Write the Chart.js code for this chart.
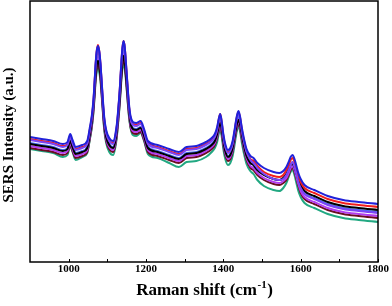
<!DOCTYPE html>
<html>
<head>
<meta charset="utf-8">
<script src="https://cdn.jsdelivr.net/npm/chart.js@4.4.1/dist/chart.umd.min.js"></script>
<style>
  html, body { margin: 0; padding: 0; background: #fff; }
</style>
</head>
<body>
<canvas id="sersChart" width="392" height="306"></canvas>
<script>
// Raman shift positions (cm-1)
const ramanShift = [900, 930, 960, 985, 997, 1004, 1010, 1018, 1035, 1048,
  1055, 1060, 1064, 1067, 1070, 1073, 1076, 1079, 1082, 1085,
  1088, 1092, 1097, 1105, 1115, 1124, 1128, 1132, 1136, 1139,
  1142, 1145, 1148, 1152, 1156, 1160, 1166, 1175, 1186, 1195,
  1205, 1230, 1260, 1285, 1305, 1330, 1355, 1370, 1378, 1384,
  1388, 1392, 1396, 1400, 1405, 1412, 1418, 1424, 1429, 1434,
  1439, 1443, 1448, 1453, 1460, 1470, 1478, 1488, 1505, 1530,
  1545, 1555, 1563, 1569, 1574, 1579, 1584, 1589, 1594, 1600,
  1610, 1635, 1670, 1710, 1750, 1800];

// SERS intensity (a.u.) for each spectrum
const spectrumBlue = [125, 123, 121, 118, 120, 128, 122, 115, 117, 121,
  135, 147, 162, 180, 200, 212, 216, 211, 200, 183,
  165, 145, 132, 124, 121, 136, 152, 172, 198, 214,
  221, 215, 200, 178, 158, 146, 140, 139, 141, 133,
  121, 117, 113, 110, 115, 116, 120, 124, 128, 135,
  143, 148, 140, 128, 118, 112, 114, 121, 132, 144,
  151, 146, 134, 124, 113, 106, 104, 99, 94, 90,
  89, 91, 95, 100, 105, 107, 103, 96, 89, 83,
  77, 72, 66, 62, 60, 58];
const spectrumRed = [123, 121, 119, 116, 118, 126, 120, 113, 115, 119,
  133, 145, 160, 179, 199, 212, 217, 211, 199, 182,
  163, 143, 130, 122, 119, 134, 150, 171, 197, 214,
  221, 215, 199, 177, 156, 144, 138, 137, 139, 131,
  119, 115, 111, 108, 113, 114, 118, 122, 126, 133,
  142, 148, 139, 126, 116, 110, 112, 119, 130, 143,
  150, 145, 132, 122, 111, 103, 101, 96, 90, 86,
  85, 87, 92, 97, 102, 104, 100, 93, 86, 80,
  74, 69, 63, 59, 57, 55];
const spectrumViolet = [122, 120, 118, 115, 117, 125, 119, 112, 114, 118,
  132, 144, 159, 178, 198, 211, 215, 210, 198, 181,
  162, 142, 129, 121, 118, 133, 149, 170, 196, 213,
  220, 214, 198, 176, 155, 143, 137, 136, 138, 130,
  118, 114, 110, 107, 112, 113, 117, 121, 125, 132,
  141, 146, 138, 125, 115, 109, 111, 118, 129, 142,
  149, 144, 131, 121, 110, 102, 99, 94, 88, 83,
  82, 83, 87, 92, 97, 100, 95, 88, 80, 74,
  68, 63, 57, 53, 51, 49];
const spectrumBlack = [118, 116, 114, 111, 113, 121, 115, 108, 110, 114,
  128, 140, 155, 171, 188, 198, 201, 197, 188, 174,
  158, 138, 125, 117, 114, 129, 145, 163, 186, 200,
  206, 201, 188, 169, 151, 139, 133, 132, 134, 126,
  114, 110, 106, 103, 108, 109, 113, 117, 121, 128,
  135, 139, 132, 121, 111, 105, 107, 114, 125, 136,
  142, 138, 127, 117, 106, 99, 97, 92, 87, 83,
  82, 84, 88, 93, 97, 98, 95, 89, 82, 77,
  71, 66, 60, 56, 54, 52];
const spectrumRoyal = [119, 117, 115, 112, 114, 122, 116, 109, 111, 115,
  129, 141, 156, 174, 195, 207, 211, 206, 195, 177,
  159, 139, 126, 118, 115, 130, 146, 166, 193, 209,
  216, 210, 195, 172, 152, 140, 134, 133, 135, 127,
  115, 111, 107, 104, 109, 110, 114, 118, 122, 129,
  137, 142, 134, 122, 112, 106, 108, 115, 126, 138,
  145, 140, 128, 118, 107, 99, 97, 92, 87, 83,
  82, 84, 88, 93, 98, 100, 96, 89, 82, 75,
  69, 64, 58, 54, 52, 50];
const spectrumMagenta = [116, 114, 112, 109, 111, 119, 113, 106, 108, 112,
  126, 138, 153, 170, 190, 201, 205, 200, 190, 173,
  156, 136, 123, 115, 112, 127, 143, 162, 188, 203,
  210, 204, 190, 168, 149, 137, 131, 130, 132, 124,
  112, 108, 104, 101, 106, 107, 111, 115, 119, 126,
  133, 138, 130, 119, 109, 103, 105, 112, 123, 134,
  141, 136, 125, 115, 104, 96, 94, 89, 84, 80,
  79, 81, 84, 89, 94, 96, 92, 85, 78, 71,
  65, 60, 54, 50, 48, 46];
const spectrumMaroon = [114, 112, 110, 107, 109, 117, 111, 104, 106, 110,
  124, 136, 151, 167, 185, 195, 198, 194, 185, 170,
  154, 134, 121, 113, 110, 125, 141, 159, 183, 197,
  203, 198, 185, 165, 147, 135, 129, 128, 130, 122,
  110, 106, 102, 99, 104, 105, 109, 113, 117, 124,
  131, 135, 128, 117, 107, 101, 103, 110, 121, 132,
  138, 134, 123, 113, 102, 94, 92, 87, 82, 78,
  77, 79, 82, 87, 92, 94, 90, 83, 76, 69,
  63, 58, 52, 48, 46, 44];
const spectrumGreen = [113, 111, 109, 105, 107, 116, 110, 102, 105, 109,
  123, 135, 149, 165, 182, 191, 194, 190, 182, 168,
  152, 132, 119, 110, 107, 123, 139, 157, 180, 193,
  198, 194, 182, 163, 145, 134, 127, 126, 129, 121,
  108, 104, 99, 95, 100, 101, 105, 110, 114, 120,
  128, 132, 125, 113, 103, 97, 99, 106, 117, 129,
  136, 131, 119, 109, 98, 91, 88, 82, 76, 72,
  71, 74, 79, 85, 90, 92, 87, 79, 71, 65,
  59, 54, 48, 44, 42, 40];

// axis ticks
const majorTicks = [1000, 1200, 1400, 1600, 1800];
const minorTicks = [1100, 1300, 1500, 1700];

const serif = '"Liberation Serif", "Times New Roman", serif';

const frameAndTitles = {
  id: 'frameAndTitles',
  afterDatasetsDraw(chart) {
    const { ctx, chartArea: a, scales } = chart;
    ctx.save();
    ctx.strokeStyle = '#000';
    ctx.lineWidth = 1.5;
    ctx.strokeRect(a.left, a.top, a.right - a.left, a.bottom - a.top);

    // inward ticks on the bottom axis
    ctx.lineWidth = 1;
    ctx.beginPath();
    majorTicks.concat(minorTicks).forEach(v => {
      const px = Math.round(scales.x.getPixelForValue(v)) + 0.5;
      ctx.moveTo(px, a.bottom);
      ctx.lineTo(px, a.bottom - 3);
    });
    ctx.stroke();

    // x title with superscript
    ctx.fillStyle = '#000';
    ctx.textBaseline = 'alphabetic';
    const main = 'Raman shift (cm';
    const sup = '-1';
    const close = ')';
    ctx.font = 'bold 17px ' + serif;
    const w1 = ctx.measureText(main).width;
    const w3 = ctx.measureText(close).width;
    ctx.font = 'bold 11px ' + serif;
    const w2 = ctx.measureText(sup).width;
    let x = (a.left + a.right) / 2 - (w1 + w2 + w3) / 2;
    const base = 295;
    ctx.font = 'bold 17px ' + serif;
    ctx.textAlign = 'left';
    ctx.fillText(main, x, base);
    ctx.font = 'bold 11px ' + serif;
    ctx.fillText(sup, x + w1 + 0.5, base - 7);
    ctx.font = 'bold 17px ' + serif;
    ctx.fillText(close, x + w1 + w2 + 1, base);

    // y title
    ctx.translate(9, 135);
    ctx.rotate(-Math.PI / 2);
    ctx.textAlign = 'center';
    ctx.textBaseline = 'middle';
    ctx.font = 'bold 15px ' + serif;
    ctx.fillText('SERS Intensity (a.u.)', 0, 0);
    ctx.restore();
  }
};

const spectra = [
  { data: spectrumBlue, color: '#2121d9' },
  { data: spectrumViolet, color: '#7b45f5' },
  { data: spectrumRed, color: '#f21d1d' },
  { data: spectrumBlack, color: '#000000' },
  { data: spectrumRoyal, color: '#4a6ef2' },
  { data: spectrumMagenta, color: '#b23cf0' },
  { data: spectrumMaroon, color: '#6b0d22' },
  { data: spectrumGreen, color: '#22a882' }
];

const ctx = document.getElementById('sersChart').getContext('2d');
const chart = new Chart(ctx, {
  type: 'line',
  data: {
    datasets: spectra.map(s => ({
      data: s.data.map((v, i) => ({ x: ramanShift[i], y: v })),
      borderColor: s.color,
      borderWidth: 2,
      pointRadius: 0,
      cubicInterpolationMode: 'monotone',
      fill: false
    }))
  },
  options: {
    responsive: false,
    animation: false,
    layout: { padding: { left: 30, right: 14, top: 1, bottom: 0 } },
    plugins: {
      legend: { display: false },
      tooltip: { enabled: false }
    },
    scales: {
      x: {
        type: 'linear',
        min: 900,
        max: 1800,
        afterBuildTicks: scale => {
          scale.ticks = majorTicks.map(v => ({ value: v }));
        },
        afterFit: scale => { scale.height = 44; },
        grid: { display: false, drawTicks: false },
        border: { display: false },
        ticks: {
          padding: 1,
          color: '#000',
          font: { family: serif, size: 11, weight: 'bold' },
          callback: v => String(v)
        }
      },
      y: {
        display: false,
        min: 0,
        max: 261
      }
    }
  },
  plugins: [frameAndTitles]
});
</script>
</body>
</html>
